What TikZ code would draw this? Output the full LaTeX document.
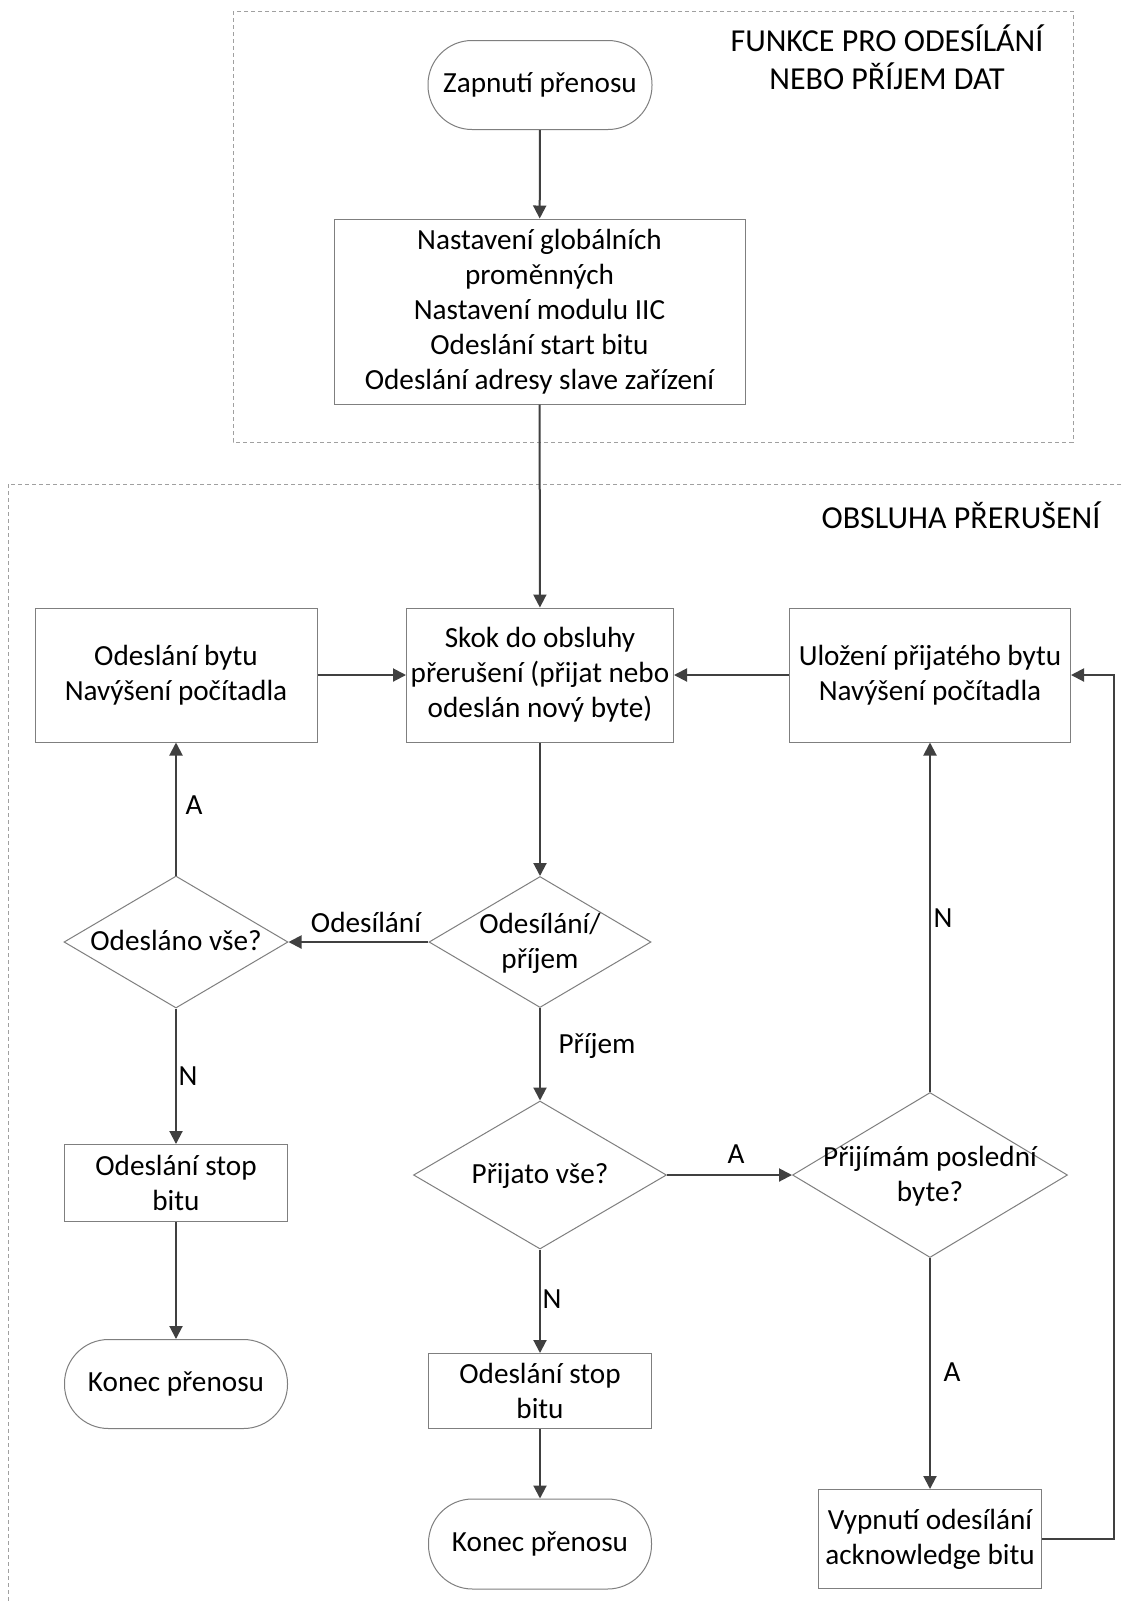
\documentclass[tikz,border=0pt]{standalone}
\usepackage{fontspec}
\setmainfont{Carlito}
\usetikzlibrary{arrows.meta,shapes.geometric}
\definecolor{linec}{HTML}{404040}
\definecolor{boxc}{HTML}{7F7F7F}
\definecolor{dashc}{HTML}{A0A0A0}
\newcommand\dtext[1]{\lower1.5pt\vbox to 0pt{\vss\hbox to 0pt{\hss\begin{tabular}{@{}c@{}}#1\end{tabular}\hss}\vss}}
\begin{document}
\begin{tikzpicture}[x=0.5pt,y=-0.5pt,
  font=\fontsize{14.6}{17.5}\selectfont,
  proc/.style={draw=boxc, line width=0.5pt, fill=white, rectangle, inner sep=0pt, align=center},
  term/.style={draw=boxc, line width=0.5pt, fill=white, rectangle, rounded corners=22pt, inner sep=0pt, align=center},
  dec/.style={draw=boxc, line width=0.5pt, fill=white, diamond, inner sep=0pt},
  arr/.style={draw=linec, line width=1pt, -{Triangle[length=6.5pt,width=6.5pt]}},
  lab/.style={inner sep=1pt},
  grp/.style={draw=dashc, line width=0.5pt, dash pattern=on 2pt off 1.5pt},
  ttl/.style={align=center, font=\fontsize{16}{19}\selectfont}]
\useasboundingbox (0,0) rectangle (1122,1602);
\fill[white] (0,0) rectangle (1122,1602);
% group frames
\draw[grp] (233,11) rectangle (1073,442);
\begin{scope}
  \clip (0,0) rectangle (1122,1602);
  \draw[grp] (8,484) rectangle (1140,1620);
\end{scope}
\node[ttl] (t1) at (887,57) {FUNKCE PRO ODESÍLÁNÍ\\NEBO PŘÍJEM DAT};
\node[ttl] (t2) at (961,515) {OBSLUHA PŘERUŠENÍ};
% nodes
\node[term, minimum width=112pt, minimum height=44.5pt] (start) at (540,85) {Zapnutí přenosu};
\node[proc, minimum width=205.5pt, minimum height=92.5pt] (init) at (539.5,311.5)
  {Nastavení globálních\\proměnných\\Nastavení modulu IIC\\Odeslání start bitu\\Odeslání adresy slave zařízení};
\node[proc, minimum width=141pt, minimum height=67pt] (send) at (176,675) {Odeslání bytu\\Navýšení počítadla};
\node[proc, minimum width=133.5pt, minimum height=67pt] (isr) at (540,675) {Skok do obsluhy\\přerušení (přijat nebo\\odeslán nový byte)};
\node[proc, minimum width=140.5pt, minimum height=67pt] (store) at (930,675) {Uložení přijatého bytu\\Navýšení počítadla};
\node[dec, minimum width=112pt, minimum height=66pt] (dsend) at (176,942) {\dtext{Odesláno vše?}};
\node[dec, minimum width=111pt, minimum height=65.5pt] (dmode) at (540,942) {\dtext{Odesílání/\\příjem}};
\node[dec, minimum width=126.5pt, minimum height=74pt] (drecv) at (540,1175) {\dtext{Přijato vše?}};
\node[dec, minimum width=137.5pt, minimum height=82.5pt] (dlast) at (930,1175) {\dtext{Přijímám poslední\\byte?}};
\node[proc, minimum width=111.5pt, minimum height=38.5pt] (stop1) at (176,1183) {Odeslání stop\\bitu};
\node[term, minimum width=111.5pt, minimum height=44.5pt] (end1) at (176,1384) {Konec přenosu};
\node[proc, minimum width=111.5pt, minimum height=37.5pt] (stop2) at (540,1391) {Odeslání stop\\bitu};
\node[term, minimum width=111.5pt, minimum height=45pt] (end2) at (540,1544) {Konec přenosu};
\node[proc, minimum width=111.5pt, minimum height=49.5pt] (ack) at (930,1539) {Vypnutí odesílání\\acknowledge bitu};
% connectors
\draw[arr] (start) -- (init);
\draw[arr] (init) -- (isr);
\draw[arr] (send) -- (isr);
\draw[arr] (store) -- (isr);
\draw[arr] (isr) -- (dmode);
\draw[arr] (dmode) -- (dsend) node[lab, at={(366,922)}] (lOd) {Odesílání};
\draw[arr] (dsend) -- (send) node[lab, at={(194,805)}] (lA1) {A};
\draw[arr] (dsend) -- (stop1) node[lab, at={(188,1076)}] (lN1) {N};
\draw[arr] (stop1) -- (end1);
\draw[arr] (dmode) -- (drecv) node[lab, at={(597,1046)}] (lPr) {Příjem};
\draw[arr] (drecv) -- (dlast) node[lab, at={(736,1154)}] (lA2) {A};
\draw[arr] (drecv) -- (stop2) node[lab, at={(552,1299)}] (lN2) {N};
\draw[arr] (stop2) -- (end2);
\draw[arr] (dlast) -- (store) node[lab, at={(943,918)}] (lN3) {N};
\draw[arr] (dlast) -- (ack) node[lab, at={(952,1372)}] (lA3) {A};
\coordinate (loop) at (1114,1539);
\draw[arr] (ack.east) -- (loop) |- (store.east);
\end{tikzpicture}
\end{document}
